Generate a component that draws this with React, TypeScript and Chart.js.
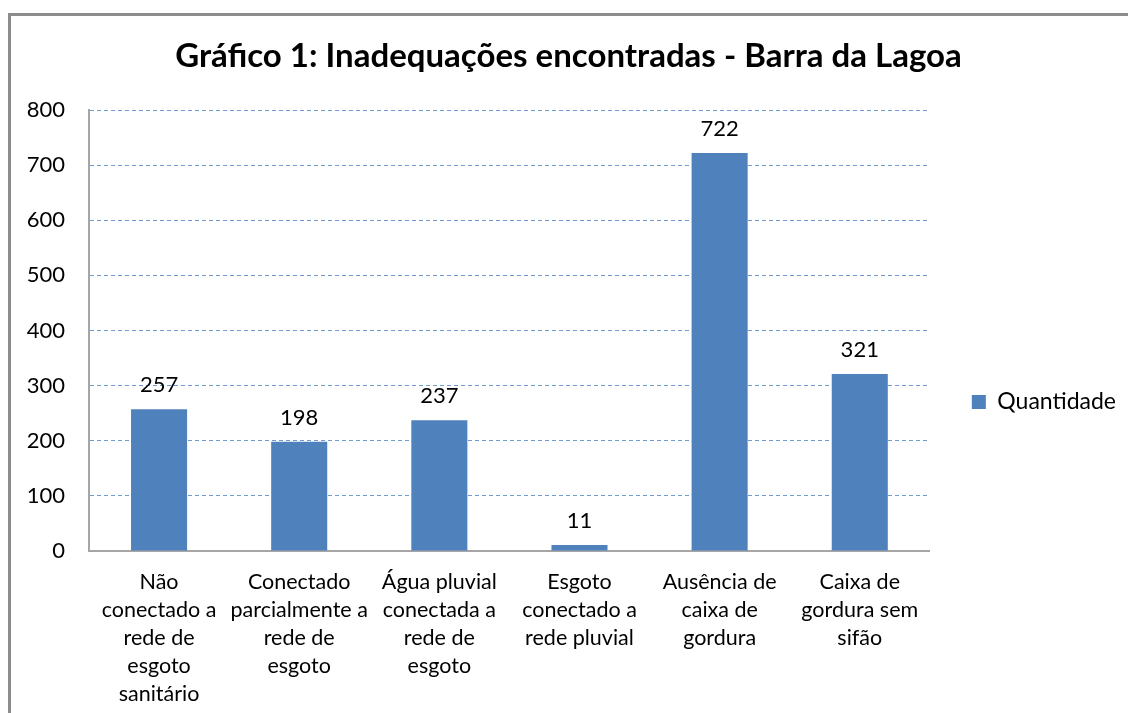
import React, { useEffect, useRef } from "react";
import { Chart, registerables } from "chart.js";

Chart.register(...registerables);

const titleText = "Gráfico 1: Inadequações encontradas - Barra da Lagoa";
const seriesName = "Quantidade";
const categories: string[][] = [
  ["Não", "conectado a", "rede de", "esgoto", "sanitário"],
  ["Conectado", "parcialmente a", "rede de", "esgoto"],
  ["Água pluvial", "conectada a", "rede de", "esgoto"],
  ["Esgoto", "conectado a", "rede pluvial"],
  ["Ausência de", "caixa de", "gordura"],
  ["Caixa de", "gordura sem", "sifão"],
];
const values = [257, 198, 237, 11, 722, 321];
const yMin = 0;
const yMax = 800;
const yStep = 100;

const FONT = "Lato, 'Open Sans', sans-serif";
const BAR_COLOR = "#4f81bd";

const valueLabels = {
  id: "valueLabels",
  afterDatasetsDraw(chart: any) {
    const ctx = chart.ctx;
    ctx.save();
    ctx.font = `22px ${FONT}`;
    ctx.fillStyle = "#000000";
    ctx.textAlign = "center";
    ctx.textBaseline = "middle";
    chart.data.datasets.forEach((ds: any, di: number) => {
      const meta = chart.getDatasetMeta(di);
      meta.data.forEach((el: any, i: number) => {
        ctx.fillText(String(ds.data[i]), el.x, el.y - 24);
      });
    });
    ctx.restore();
  },
};

export default function App() {
  const ref = useRef<HTMLCanvasElement>(null);
  useEffect(() => {
    if (!ref.current) return;
    const chart = new Chart(ref.current, {
      type: "bar",
      data: {
        labels: categories,
        datasets: [
          {
            label: seriesName,
            data: values,
            backgroundColor: BAR_COLOR,
            borderWidth: 0,
            barPercentage: 0.4,
            categoryPercentage: 1,
          },
        ],
      },
      options: {
        responsive: false,
        animation: false,
        layout: { padding: { top: 0, left: 0, right: 2, bottom: 0 } },
        plugins: {
          title: {
            display: true,
            text: titleText,
            color: "#000000",
            font: { family: FONT, size: 33, weight: "bold" },
            padding: { top: 21, bottom: 33.4 },
          },
          legend: {
            display: true,
            position: "right",
            labels: {
              boxWidth: 14,
              boxHeight: 14,
              padding: 42,
              color: "#000000",
              font: { family: FONT, size: 23 },
            },
          },
          tooltip: { enabled: false },
        },
        scales: {
          x: {
            grid: { display: false, drawTicks: false },
            border: { display: true, color: "#a6a6a6", width: 2 },
            ticks: {
              color: "#000000",
              font: { family: FONT, size: 21.5, lineHeight: 1.3 },
              padding: 17,
              maxRotation: 0,
              autoSkip: false,
            },
            afterFit(scale: any) {
              scale.height = 237;
            },
          },
          y: {
            min: yMin,
            max: yMax,
            grid: {
              color: (c: any) => (c.tick && c.tick.value === 0 ? "rgba(0,0,0,0)" : "#6f9bd1"),
              lineWidth: 1,
              drawTicks: false,
            },
            border: { display: true, color: "#a6a6a6", width: 2, dash: [4, 3] },
            ticks: {
              stepSize: yStep,
              color: "#000000",
              font: { family: FONT, size: 22 },
              padding: 24,
            },
            afterFit(scale: any) {
              scale.width = 78;
            },
          },
        },
      },
      plugins: [valueLabels],
    });
    return () => chart.destroy();
  }, []);

  return (
    <div>
      <div
        style={{
          position: "fixed",
          left: 8,
          top: 13,
          width: 1200,
          height: 800,
          border: "3px solid #8c8c8c",
          background: "#ffffff",
        }}
      />
      <canvas
        ref={ref}
        width={1117}
        height={772}
        style={{ position: "fixed", left: 11, top: 16, width: 1117, height: 772 }}
      />
    </div>
  );
}
